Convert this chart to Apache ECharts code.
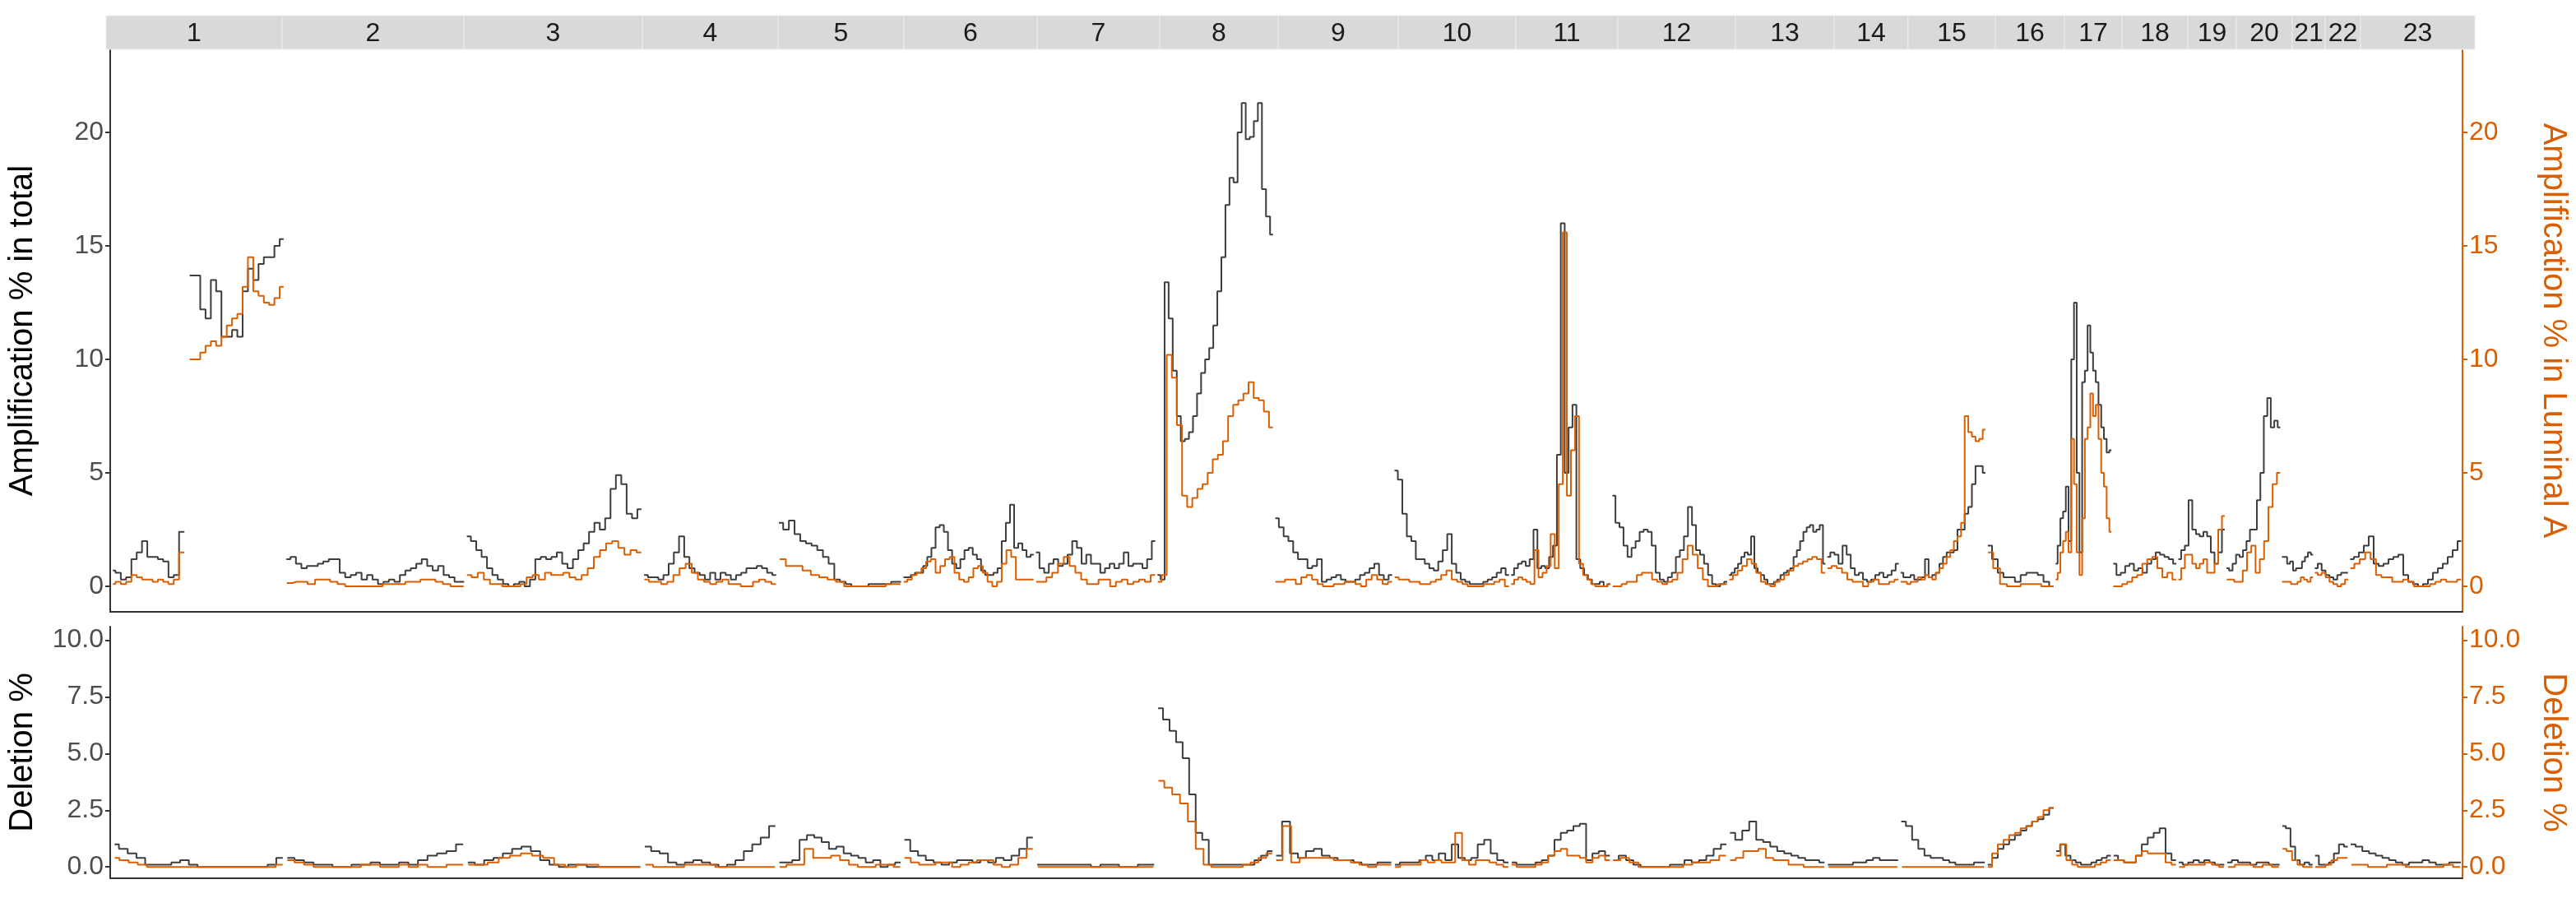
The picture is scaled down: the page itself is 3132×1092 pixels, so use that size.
<!DOCTYPE html>
<html><head><meta charset="utf-8">
<script src="https://cdn.jsdelivr.net/npm/echarts@6/dist/echarts.min.js"></script>
<style>html,body{margin:0;padding:0;background:#fff}#c{width:3132px;height:1092px}</style>
</head><body><div id="c"></div>
<script>
const chromNames = ['1','2','3','4','5','6','7','8','9','10','11','12','13','14','15','16','17','18','19','20','21','22','23'];
const chromWidths = [214,221,217,165,153,162,149,144,146,143,124,143,120,90,106,84,70,80,59,68,40,43,139];

const ampTotal = [
 [0.7,0.6,0.3,0.4,1.2,1.5,2.0,1.3,1.3,1.2,1.1,0.4,0.5,2.4,null,13.7,13.7,12.2,11.8,13.5,13.0,11.0,11.0,11.3,11.0,13.0,14.0,13.5,14.2,14.5,14.5,15.0,15.3],
 [1.2,1.3,1.0,0.8,0.9,0.9,1.0,1.1,1.2,1.2,0.6,0.4,0.5,0.6,0.3,0.5,0.3,0.1,0.2,0.3,0.2,0.5,0.7,0.8,1.0,1.2,0.9,0.7,0.9,0.5,0.4,0.2,0.2],
 [2.2,2.0,1.6,1.3,0.8,0.5,0.3,0.1,0.0,0.1,0.2,0.0,0.3,1.2,1.3,1.2,1.3,1.5,1.0,0.8,1.2,1.6,1.9,2.4,2.8,2.5,3.0,4.3,4.9,4.5,3.2,3.0,3.4],
 [0.5,0.4,0.4,0.3,0.5,1.0,1.5,2.2,1.3,0.8,0.6,0.5,0.3,0.6,0.3,0.6,0.5,0.3,0.5,0.6,0.8,0.8,0.9,0.8,0.6,0.5],
 [2.8,2.5,2.9,2.3,2.0,1.9,1.8,1.6,1.3,1.0,0.3,0.2,0.1,0.0,0.0,0.0,0.1,0.1,0.1,0.1,0.2,0.2],
 [0.4,0.4,0.5,0.6,0.6,0.9,1.3,1.7,2.6,2.7,2.4,1.6,1.0,0.8,1.2,1.6,1.7,1.4,1.2,0.7,0.5,0.5,0.6,0.8,2.0,2.8,3.6,1.7,1.9,1.6,1.3,1.4],
 [1.5,0.8,0.6,1.0,1.2,0.9,1.0,1.4,2.0,1.7,1.0,1.4,1.0,1.0,0.6,0.8,1.0,0.8,1.0,1.5,0.9,1.0,1.0,0.8,1.2,2.0],
 [0.5,0.3,13.4,11.8,9.5,7.5,6.4,6.5,6.8,7.5,8.5,9.4,10.0,10.5,11.5,13.0,14.5,16.8,18.0,17.8,20.0,21.3,19.7,19.8,20.5,21.3,17.5,16.3,15.5],
 [3.0,2.6,2.2,2.0,1.5,1.2,1.2,0.8,0.9,1.2,0.2,0.3,0.4,0.5,0.3,0.2,0.2,0.3,0.5,0.6,0.8,1.0,0.5,0.3,0.5],
 [5.1,4.7,3.2,2.2,2.0,1.2,1.2,1.0,0.8,0.7,1.1,1.6,2.3,1.0,0.6,0.3,0.2,0.1,0.1,0.1,0.2,0.3,0.4,0.6,0.8,0.5],
 [0.5,0.8,1.0,1.1,0.9,1.2,2.5,0.8,0.9,0.8,1.3,1.8,5.8,16.0,5.0,7.0,8.0,1.2,0.8,0.5,0.3,0.1,0.1,0.2,0.0,0.1],
 [4.0,2.8,2.6,1.8,1.3,1.7,2.0,2.4,2.5,2.4,1.8,0.6,0.3,0.2,0.4,0.6,1.3,1.6,2.2,3.5,2.7,1.6,1.4,1.0,0.5,0.1,0.0,0.1,0.2],
 [0.5,0.6,0.8,1.0,1.3,1.5,1.4,2.2,0.8,0.6,0.5,0.3,0.1,0.1,0.2,0.3,0.5,0.6,0.7,0.8,1.3,1.6,2.0,2.4,2.6,2.7,2.4,2.5,2.7,1.0],
 [1.3,1.5,1.4,1.0,1.8,1.4,0.8,0.5,0.6,0.3,0.2,0.3,0.5,0.6,0.4,0.5,0.7,1.0],
 [0.6,0.4,0.4,0.5,0.3,0.3,0.4,1.2,0.4,0.5,0.6,1.0,1.3,1.5,1.5,1.6,2.5,2.5,3.2,3.5,4.5,5.3,5.3,5.0],
 [1.8,1.2,0.6,0.4,0.4,0.2,0.5,0.6,0.6,0.5,0.2,0.0],
 [1.0,1.8,3.0,3.3,4.4,2.0,10.0,12.5,5.0,1.5,9.0,9.5,11.5,10.3,9.5,9.0,8.0,7.0,6.5,5.9,6.0],
 [1.0,0.5,0.6,0.9,1.0,0.7,0.8,0.6,1.0,1.2,1.5,1.4,1.3,1.2,1.0],
 [1.2,1.6,1.8,3.8,2.5,2.3,2.2,2.4,2.2,1.5,1.0,1.5,2.5],
 [0.8,0.7,1.0,1.4,1.3,1.6,2.0,2.5,2.5,3.8,5.0,7.5,8.3,7.0,7.3,7.0],
 [1.3,1.3,1.0,1.1,0.7,0.8,0.8,1.1,1.3,1.5,1.4],
 [0.8,1.0,0.7,0.5,0.4,0.3,0.5,0.6,0.6],
 [1.2,1.3,1.5,1.8,2.2,1.0,0.9,1.0,1.2,1.3,1.4,0.5,0.2,0.1,0.0,0.1,0.3,0.6,0.8,1.0,1.3,1.6,2.0]
];
const ampLumA = [
 [0.1,0.2,0.1,0.2,0.5,0.4,0.3,0.3,0.2,0.3,0.2,0.1,0.3,1.5,null,10.0,10.0,10.3,10.6,10.8,10.6,11.0,11.5,11.8,12.0,13.2,14.5,13.0,12.8,12.5,12.4,12.7,13.2],
 [0.15,0.2,0.2,0.1,0.3,0.3,0.2,0.1,0.0,0.0,0.0,0.0,0.0,0.1,0.1,0.1,0.2,0.2,0.3,0.3,0.2,0.1,0.0,0.0],
 [0.5,0.4,0.6,0.3,0.1,0.1,0.0,0.0,0.0,0.1,0.4,0.5,0.3,0.6,0.5,0.5,0.6,0.4,0.3,0.5,0.8,1.3,1.6,1.9,2.0,1.7,1.4,1.6,1.5],
 [0.3,0.2,0.2,0.1,0.2,0.5,0.8,1.0,0.6,0.3,0.2,0.1,0.2,0.3,0.1,0.1,0.0,0.0,0.2,0.3,0.2,0.1],
 [1.2,0.9,0.9,0.7,0.5,0.4,0.3,0.2,0.0,0.0,0.0,0.0,0.0,0.1,0.1],
 [0.2,0.3,0.5,0.6,0.8,1.1,1.2,0.6,0.9,1.2,1.3,0.6,0.3,0.2,0.4,0.8,0.9,0.6,0.2,0.0,0.2,1.0,1.6,1.3,0.3,0.3,0.3,0.3],
 [0.2,0.2,0.4,0.6,1.0,1.3,0.9,0.6,0.3,0.1,0.1,0.3,0.3,0.0,0.2,0.3,0.1,0.2,0.3,0.2,0.5],
 [0.2,0.5,10.2,9.2,7.1,4.0,3.5,3.9,4.3,4.5,5.0,5.6,5.8,6.4,7.5,8.0,8.2,8.5,9.0,8.3,8.2,7.7,7.0],
 [0.2,0.2,0.3,0.3,0.1,0.4,0.5,0.3,0.1,0.0,0.0,0.1,0.1,0.2,0.2,0.1,0.0,0.3,0.5,0.3,0.1,0.2],
 [0.4,0.3,0.3,0.2,0.2,0.1,0.1,0.2,0.3,0.5,0.7,0.3,0.2,0.1,0.0,0.0,0.0,0.1,0.1,0.2,0.3,0.0],
 [0.1,0.3,0.4,0.3,0.2,0.1,1.6,0.4,0.6,0.9,2.3,0.8,4.5,15.6,4.0,6.0,7.5,1.0,0.5,0.3,0.1,0.0,0.0,0.0,0.1],
 [0.0,0.0,0.1,0.2,0.2,0.5,0.6,0.6,0.3,0.2,0.1,0.2,0.3,0.6,1.2,1.8,1.4,0.8,0.3,0.0,0.0,0.1,0.1],
 [0.3,0.5,0.7,0.9,1.2,1.0,0.6,0.2,0.1,0.0,0.2,0.3,0.5,0.7,0.9,1.0,1.1,1.2,1.3,1.2,0.6],
 [0.8,0.9,0.8,0.6,0.3,0.2,0.2,0.0,0.2,0.3,0.1,0.1,0.2,0.3],
 [0.2,0.2,0.1,0.2,0.2,0.4,0.3,0.5,0.4,0.3,0.6,0.8,1.0,1.3,1.6,2.0,2.2,2.8,7.5,6.8,6.6,6.4,6.5,6.9],
 [1.5,0.8,0.1,0.0,0.0,0.1,0.1,0.1,0.0,0.0],
 [0.3,0.6,1.5,2.0,2.4,1.5,6.5,4.5,1.5,0.5,3.0,6.5,7.0,8.5,7.5,8.0,6.5,5.0,4.4,3.0,2.4],
 [0.0,0.0,0.1,0.2,0.4,0.5,1.0,1.2,1.3,0.8,0.4,0.6,0.3],
 [0.3,0.8,1.4,1.4,1.0,0.8,1.0,1.2,0.6,0.6,1.0,2.5,3.1],
 [0.3,0.3,0.2,0.2,0.7,1.5,1.8,0.6,1.2,2.0,3.5,4.5,5.0],
 [0.2,0.2,0.2,0.1,0.1,0.2,0.4,0.3,0.2,0.4],
 [0.6,0.5,0.6,0.4,0.2,0.1,0.0,0.1,0.3],
 [0.8,1.0,1.2,1.5,1.2,0.5,0.4,0.4,0.2,0.2,0.3,0.2,0.0,0.0,0.0,0.1,0.2,0.3,0.2,0.2,0.3]
];
const delTotal = [
 [1.0,0.8,0.6,0.4,0.1,0.1,0.1,0.2,0.3,0.1,0.0,0.0,0.0,0.0,0.0,0.0,0.0,0.0,0.1,0.4],
 [0.4,0.3,0.2,0.1,0.1,0.0,0.0,0.1,0.1,0.2,0.1,0.1,0.2,0.1,0.3,0.5,0.6,0.7,1.0],
 [0.2,0.1,0.3,0.4,0.6,0.8,0.9,0.7,0.3,0.1,0.0,0.1,0.1,0.0,0.0,0.0,0.0,0.0,0.0],
 [0.9,0.7,0.6,0.2,0.1,0.2,0.3,0.2,0.1,0.0,0.1,0.3,0.7,1.0,1.3,1.8],
 [0.2,0.2,0.3,1.2,1.4,1.3,1.1,0.8,0.9,0.6,0.5,0.4,0.2,0.3,0.0,0.1,0.2],
 [1.2,0.7,0.5,0.3,0.2,0.1,0.2,0.3,0.3,0.2,0.3,0.2,0.4,0.3,0.5,0.8,1.3],
 [0.1,0.1,0.1,0.1,0.1,0.1,0.0,0.1,0.1,0.0,0.0,0.1,0.1],
 [7.0,6.5,6.0,5.5,4.8,3.2,1.5,1.2,0.1,0.1,0.1,0.1,0.1,0.1,0.1,0.3,0.5,0.7],
 [0.5,2.0,0.6,0.4,0.7,0.8,0.5,0.4,0.3,0.3,0.2,0.1,0.1,0.2,0.2],
 [0.1,0.2,0.2,0.2,0.3,0.5,0.3,0.6,0.3,1.0,0.4,0.3,0.4,1.0,1.2,0.6,0.3,0.2],
 [0.2,0.1,0.1,0.1,0.2,0.3,0.5,1.2,1.5,1.6,1.8,1.9,0.3,0.6,0.7,0.5],
 [0.3,0.5,0.3,0.1,0.0,0.0,0.0,0.0,0.1,0.1,0.3,0.2,0.3,0.5,0.8,1.0],
 [1.5,1.2,1.6,2.0,1.2,1.1,0.9,0.7,0.6,0.5,0.4,0.3,0.3,0.2],
 [0.1,0.1,0.1,0.1,0.2,0.2,0.3,0.4,0.3,0.3,0.3],
 [2.0,1.8,1.2,0.8,0.5,0.4,0.4,0.3,0.2,0.1,0.1,0.1,0.2,0.2],
 [0.1,0.4,0.8,1.0,1.2,1.4,1.6,1.8,2.0,2.1,2.3,2.6],
 [0.7,1.0,0.5,0.3,0.2,0.1,0.1,0.2,0.3,0.4,0.5],
 [0.5,0.3,0.2,0.2,0.5,1.0,1.3,1.5,1.7,0.6,0.3],
 [0.2,0.1,0.2,0.3,0.2,0.3,0.2,0.1,0.1],
 [0.2,0.3,0.2,0.2,0.1,0.2,0.2,0.1,0.1],
 [1.8,1.7,0.9,0.3,0.1,0.2,0.1],
 [0.5,0.1,0.1,0.2,0.6,1.0,0.9],
 [1.0,0.9,0.7,0.6,0.5,0.4,0.3,0.2,0.1,0.2,0.2,0.3,0.2,0.1,0.1,0.2,0.2]
];
const delLumA = [
 [0.4,0.3,0.2,0.1,0.0,0.0,0.0,0.0,0.0,0.0,0.0,0.0,0.0,0.0,0.0,0.0,0.0,0.0,0.1],
 [0.3,0.2,0.1,0.0,0.0,0.0,0.0,0.0,0.1,0.1,0.0,0.0,0.1,0.0,0.1,0.0,0.0,0.1,0.1],
 [0.1,0.1,0.2,0.4,0.5,0.6,0.5,0.4,0.1,0.0,0.1,0.1,0.0,0.0,0.0,0.0],
 [0.1,0.0,0.0,0.0,0.1,0.1,0.1,0.0,0.0,0.0,0.0,0.0,0.0],
 [0.0,0.1,0.1,0.8,0.4,0.4,0.5,0.3,0.1,0.0,0.0,0.1,0.1,0.0],
 [0.4,0.2,0.1,0.1,0.2,0.2,0.0,0.1,0.2,0.3,0.3,0.1,0.0,0.1,0.4,0.8],
 [0.0,0.0,0.0,0.0,0.0,0.0,0.0,0.0,0.0,0.0],
 [3.8,3.5,3.2,2.8,2.0,0.8,0.1,0.0,0.0,0.0,0.0,0.1,0.2,0.4,0.6],
 [0.3,1.8,0.2,0.4,0.4,0.4,0.4,0.3,0.3,0.2,0.1,0.0,0.1,0.1],
 [0.0,0.1,0.1,0.1,0.3,0.2,0.3,0.2,0.2,1.5,0.3,0.1,0.3,0.3,0.2,0.1,0.0],
 [0.1,0.0,0.0,0.0,0.1,0.2,0.5,0.7,0.8,0.5,0.5,0.4,0.2,0.4,0.5,0.3],
 [0.3,0.4,0.2,0.0,0.0,0.0,0.0,0.0,0.1,0.2,0.2,0.3,0.5],
 [0.3,0.4,0.7,0.7,0.8,0.4,0.3,0.3,0.1,0.1,0.0,0.0,0.0],
 [0.0,0.0,0.0,0.0,0.0,0.0,0.0,0.0],
 [0.0,0.0,0.0,0.0,0.0,0.0,0.0,0.0,0.0,0.0],
 [0.0,0.6,1.0,1.2,1.4,1.5,1.7,1.8,2.0,2.2,2.5,2.6],
 [0.5,1.0,0.3,0.1,0.0,0.0,0.0,0.1,0.2,0.3],
 [0.3,0.3,0.2,0.2,0.5,0.7,0.6,0.6,0.6,0.2,0.1],
 [0.0,0.1,0.1,0.1,0.2,0.1,0.0],
 [0.0,0.1,0.1,0.0,0.1,0.0],
 [0.8,0.7,0.3,0.1,0.0,0.0],
 [0.0,0.0,0.1,0.3,0.4,0.4],
 [0.1,0.1,0.0,0.0,0.1,0.1,0.0,0.0,0.0,0.0,0.1,0.0]
];
const ampTicks = [0,5,10,15,20];
const delTicks = [0,2.5,5,7.5,10];

const starts = [];
let acc = 0;
chromWidths.forEach(w => { starts.push(acc); acc += w; });
const total = acc;
function toXY(arr) {
  const out = [];
  arr.forEach((vals, i) => {
    const n = vals.length, w = chromWidths[i];
    vals.forEach((v, k) => out.push([starts[i] + (k + 0.5) * w / n, v]));
    out.push([starts[i] + w - 0.01, null]);
  });
  return out;
}
const GRAY = '#3d3d3d', ORANGE = '#D95F02', TXT = '#4d4d4d';
const FONT = "'Liberation Sans Narrow','Liberation Sans',Arial,sans-serif";
const chart = echarts.init(document.getElementById('c'), null, {renderer: 'canvas'});

function yAxis(grid, min, max, ticks, name, right, fmt) {
  return {
    type: 'value', gridIndex: grid, min: min, max: max, position: right ? 'right' : 'left',
    name: name, nameLocation: 'middle', nameGap: right ? 90 : 86, nameRotate: right ? -90 : 90,
    nameTextStyle: {fontFamily: 'Liberation Sans, Arial', fontSize: 40, color: right ? ORANGE : '#000'},
    axisLine: {show: true, lineStyle: {color: right ? ORANGE : '#333', width: 2}},
    axisTick: {show: true, length: 6, customValues: ticks, lineStyle: {color: right ? ORANGE : '#333', width: 2}},
    axisLabel: {customValues: ticks, fontFamily: FONT, fontSize: 32, color: right ? ORANGE : TXT, margin: 8,
      formatter: v => fmt ? v.toFixed(1) : String(v)},
    splitLine: {show: false}
  };
}
function xAxis(grid, showLine) {
  return {type: 'value', gridIndex: grid, min: 0, max: total, show: true,
    axisLine: {show: showLine, onZero: false, lineStyle: {color: '#333', width: 2}},
    axisTick: {show: false}, axisLabel: {show: false}, splitLine: {show: false}};
}
function line(data, xi, yi, color, z) {
  return {type: 'line', xAxisIndex: xi, yAxisIndex: yi, data: data, step: 'middle', showSymbol: false,
    connectNulls: false, lineStyle: {color: color, width: 2}, itemStyle: {color: color}, z: z, silent: true, animation: false};
}
const stripData = chromNames.map((n, i) => [starts[i], starts[i] + chromWidths[i], n]);

chart.setOption({
  animation: false,
  grid: [
    {left: 129, right: 123, top: 60, height: 684},
    {left: 129, right: 123, top: 762, height: 306},
    {left: 129, right: 123, top: 19, height: 41}
  ],
  xAxis: [xAxis(0, true), xAxis(1, true), xAxis(2, false)],
  yAxis: [
    yAxis(0, -1.12, 23.66, ampTicks, 'Amplification % in total', false, false),
    yAxis(0, -1.12, 23.66, ampTicks, 'Amplification % in Luminal A', true, false),
    yAxis(1, -0.5, 10.6, delTicks, 'Deletion %', false, true),
    yAxis(1, -0.5, 10.6, delTicks, 'Deletion %', true, true),
    {type: 'value', gridIndex: 2, min: 0, max: 1, show: false}
  ],
  series: [
    line(toXY(ampTotal), 0, 0, GRAY, 2),
    line(toXY(ampLumA), 0, 1, ORANGE, 3),
    line(toXY(delTotal), 1, 2, GRAY, 2),
    line(toXY(delLumA), 1, 3, ORANGE, 3),
    {type: 'custom', xAxisIndex: 2, yAxisIndex: 4, data: stripData, silent: true,
      renderItem: function (params, api) {
        const p0 = api.coord([api.value(0), 1]);
        const p1 = api.coord([api.value(1), 0]);
        return {type: 'group', children: [
          {type: 'rect', shape: {x: p0[0], y: p0[1], width: p1[0] - p0[0], height: p1[1] - p0[1]},
            style: {fill: '#D9D9D9', stroke: '#EDEDED', lineWidth: 1}},
          {type: 'text', style: {x: (p0[0] + p1[0]) / 2, y: (p0[1] + p1[1]) / 2 + 2, text: api.value(2),
            fill: '#1a1a1a', font: '32px ' + FONT, align: 'center', verticalAlign: 'middle'}}
        ]};
      }}
  ]
});
</script></body></html>
